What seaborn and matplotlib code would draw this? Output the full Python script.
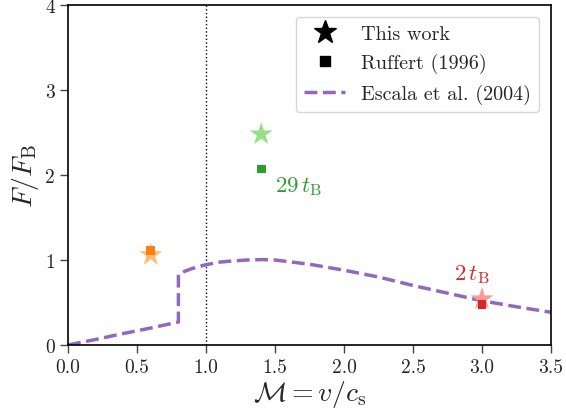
import numpy as np
import pandas as pd
import matplotlib
matplotlib.use("Agg")
import matplotlib.pyplot as plt
import seaborn as sns
from matplotlib.lines import Line2D

# ---- data ----
escala_mach = [0.0, 0.2, 0.4, 0.6, 0.8, 0.8, 0.85, 0.9, 1.0, 1.1, 1.2, 1.3, 1.4, 1.5,
               1.75, 2.0, 2.25, 2.5, 2.75, 3.0, 3.25, 3.5]
escala_force = [0.0, 0.065, 0.135, 0.20, 0.27, 0.83, 0.87, 0.90, 0.945, 0.975, 0.99, 1.0,
                1.005, 1.0, 0.95, 0.88, 0.80, 0.70, 0.61, 0.52, 0.45, 0.385]

work_mach = [0.6, 1.4, 3.0]
work_force = [1.06, 2.48, 0.54]
work_colors = ["#ffbb78", "#98df8a", "#ff9896"]

ruffert_mach = [0.6, 1.4, 3.0]
ruffert_force = [1.11, 2.07, 0.48]
ruffert_colors = ["#ff7f0e", "#2ca02c", "#d62728"]

annot_text = [r"$29\,t_{\rm B}$", r"$2\,t_{\rm B}$"]
annot_x = [1.50, 2.80]
annot_y = [1.88, 0.835]
annot_colors = ["#2ca02c", "#d62728"]

sns.set_theme(style="ticks")
plt.rcParams["font.family"] = ["cmr10", "DejaVu Sans"]
plt.rcParams["mathtext.fontset"] = "cm"
plt.rcParams["axes.formatter.use_mathtext"] = True

fig = plt.figure(figsize=(5.66, 4.14), dpi=100)
ax = fig.add_axes([68 / 566, 1 - 346 / 414, (551 - 68) / 566, (346 - 6) / 414])

ax.axvline(1.0, color="black", linestyle=":", linewidth=1.0, zorder=1)

df_e = pd.DataFrame({"mach": escala_mach, "force": escala_force})
sns.lineplot(data=df_e, x="mach", y="force", ax=ax, estimator=None, sort=False,
             color="#9467bd", linestyle="--", linewidth=2.5, zorder=2)

df_w = pd.DataFrame({"mach": work_mach, "force": work_force})
sns.scatterplot(data=df_w, x="mach", y="force", ax=ax, marker="*", s=300,
                c=work_colors, edgecolor="none", zorder=3, legend=False)
df_r = pd.DataFrame({"mach": ruffert_mach, "force": ruffert_force})
sns.scatterplot(data=df_r, x="mach", y="force", ax=ax, marker="s", s=40,
                c=ruffert_colors, edgecolor="none", zorder=4, legend=False)

for t, x, y, c in zip(annot_text, annot_x, annot_y, annot_colors):
    ax.text(x, y, t, color=c, fontsize=16.5, va="center", ha="left")

ax.set_xlim(0, 3.5)
ax.set_ylim(0, 4)
ax.set_xticks(np.arange(0, 3.51, 0.5))
ax.set_xticklabels([f"{v:.1f}" for v in np.arange(0, 3.51, 0.5)])
ax.set_yticks([0, 1, 2, 3, 4])
ax.set_yticklabels(["0", "1", "2", "3", "4"])
ax.tick_params(axis="both", labelsize=14, length=6, width=1, color="#444444", direction="out")
for s in ax.spines.values():
    s.set_color("black")
    s.set_linewidth(1.2)
ax.set_xlabel(r"$\mathcal{M} = v/c_{\rm s}$", fontsize=20, labelpad=1)
ax.set_ylabel(r"$F/F_{\rm B}$", fontsize=20, labelpad=3)

handles = [
    Line2D([], [], marker="*", color="black", linestyle="none", markersize=17),
    Line2D([], [], marker="s", color="black", linestyle="none", markersize=7),
    Line2D([], [], color="#9467bd", linestyle="--", linewidth=2.5),
]
ax.legend(handles, ["This work", "Ruffert (1996)", "Escala et al. (2004)"],
          loc="upper right", fontsize=14.5, frameon=True, borderaxespad=0.6)

fig.savefig("out.png", dpi=100)
